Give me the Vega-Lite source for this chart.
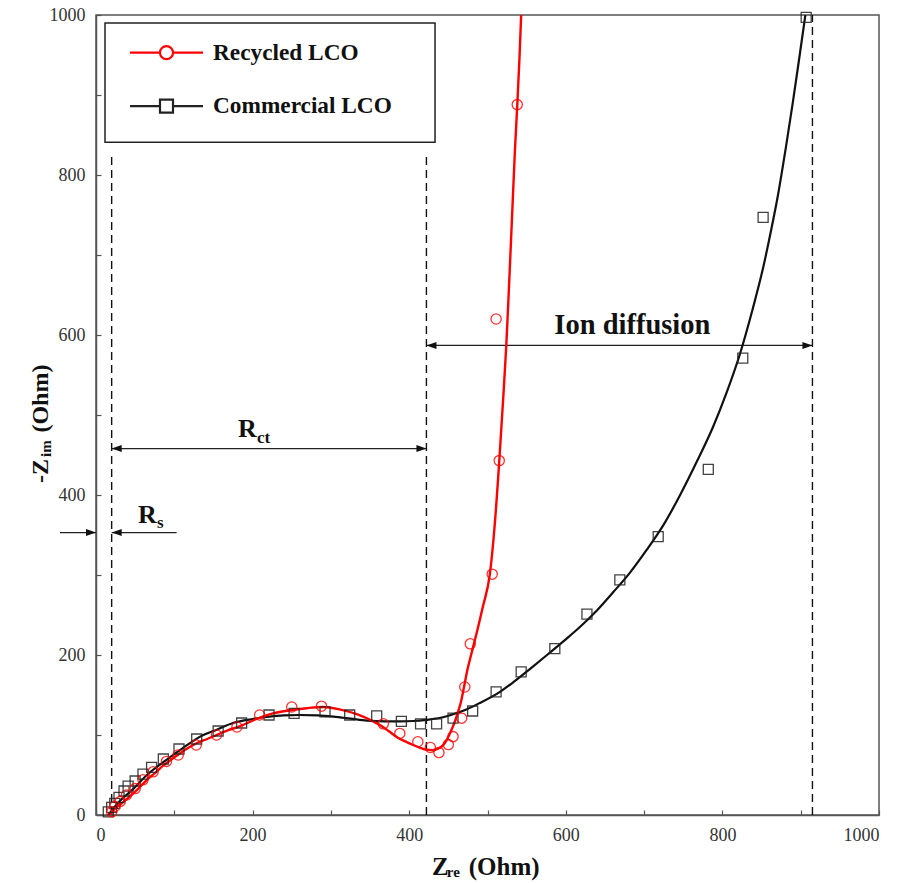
{
  "$schema": "https://vega.github.io/schema/vega-lite/v6.json",
  "width": 783,
  "height": 800,
  "autosize": {"type": "none"},
  "padding": {"left": 96, "top": 15, "right": 23, "bottom": 68},
  "background": "white",
  "config": {
    "view": {"stroke": "#555555", "strokeWidth": 1.5},
    "font": "Liberation Serif",
    "axis": {
      "grid": false,
      "domainColor": "#555555",
      "domainWidth": 1.5,
      "tickColor": "#555555",
      "tickWidth": 1.2,
      "tickSize": -5,
      "labelFont": "Liberation Serif",
      "labelFontSize": 18,
      "labelColor": "#333333"
    },
    "axisX": {"labelPadding": 16},
    "axisY": {"labelPadding": 16},
    "legend": {
      "padding": 0,
      "labelFont": "Liberation Serif",
      "labelFontWeight": "bold",
      "labelFontSize": 23.3,
      "labelColor": "#111111",
      "labelOffset": 34.85,
      "labelLimit": 400,
      "symbolStrokeWidth": 2.2,
      "symbolOpacity": 1,
      "symbolSize": 100
    }
  },
  "datasets": {
    "points": [
      {"series": "Recycled LCO", "zre": 20, "zim": 4},
      {"series": "Recycled LCO", "zre": 24, "zim": 10.6},
      {"series": "Recycled LCO", "zre": 31, "zim": 17},
      {"series": "Recycled LCO", "zre": 39, "zim": 25},
      {"series": "Recycled LCO", "zre": 50, "zim": 33},
      {"series": "Recycled LCO", "zre": 60, "zim": 44},
      {"series": "Recycled LCO", "zre": 73, "zim": 54},
      {"series": "Recycled LCO", "zre": 90, "zim": 67},
      {"series": "Recycled LCO", "zre": 105, "zim": 75},
      {"series": "Recycled LCO", "zre": 128, "zim": 87.5},
      {"series": "Recycled LCO", "zre": 154, "zim": 100},
      {"series": "Recycled LCO", "zre": 180, "zim": 110},
      {"series": "Recycled LCO", "zre": 209, "zim": 125},
      {"series": "Recycled LCO", "zre": 250, "zim": 135},
      {"series": "Recycled LCO", "zre": 288, "zim": 136},
      {"series": "Recycled LCO", "zre": 367, "zim": 114},
      {"series": "Recycled LCO", "zre": 388, "zim": 102},
      {"series": "Recycled LCO", "zre": 411, "zim": 91.6},
      {"series": "Recycled LCO", "zre": 427, "zim": 84.4},
      {"series": "Recycled LCO", "zre": 438, "zim": 78},
      {"series": "Recycled LCO", "zre": 450, "zim": 88},
      {"series": "Recycled LCO", "zre": 456, "zim": 98},
      {"series": "Recycled LCO", "zre": 467, "zim": 121},
      {"series": "Recycled LCO", "zre": 471, "zim": 160},
      {"series": "Recycled LCO", "zre": 478, "zim": 214},
      {"series": "Recycled LCO", "zre": 506, "zim": 301},
      {"series": "Recycled LCO", "zre": 515, "zim": 443},
      {"series": "Recycled LCO", "zre": 511, "zim": 620},
      {"series": "Recycled LCO", "zre": 538, "zim": 888},
      {"series": "Commercial LCO", "zre": 15.7, "zim": 4},
      {"series": "Commercial LCO", "zre": 20, "zim": 9.6},
      {"series": "Commercial LCO", "zre": 24, "zim": 14.6},
      {"series": "Commercial LCO", "zre": 29.4, "zim": 22},
      {"series": "Commercial LCO", "zre": 35.8, "zim": 30},
      {"series": "Commercial LCO", "zre": 41, "zim": 36},
      {"series": "Commercial LCO", "zre": 50, "zim": 42.5},
      {"series": "Commercial LCO", "zre": 60, "zim": 51},
      {"series": "Commercial LCO", "zre": 71, "zim": 59.6},
      {"series": "Commercial LCO", "zre": 86, "zim": 70},
      {"series": "Commercial LCO", "zre": 106, "zim": 82.5},
      {"series": "Commercial LCO", "zre": 128.6, "zim": 95},
      {"series": "Commercial LCO", "zre": 156, "zim": 105},
      {"series": "Commercial LCO", "zre": 186, "zim": 115},
      {"series": "Commercial LCO", "zre": 221, "zim": 125},
      {"series": "Commercial LCO", "zre": 253, "zim": 127},
      {"series": "Commercial LCO", "zre": 292.5, "zim": 129},
      {"series": "Commercial LCO", "zre": 324, "zim": 125},
      {"series": "Commercial LCO", "zre": 358.5, "zim": 124},
      {"series": "Commercial LCO", "zre": 390, "zim": 117},
      {"series": "Commercial LCO", "zre": 414.5, "zim": 114},
      {"series": "Commercial LCO", "zre": 435, "zim": 114},
      {"series": "Commercial LCO", "zre": 456, "zim": 121},
      {"series": "Commercial LCO", "zre": 481, "zim": 130},
      {"series": "Commercial LCO", "zre": 511, "zim": 154},
      {"series": "Commercial LCO", "zre": 543, "zim": 179},
      {"series": "Commercial LCO", "zre": 586, "zim": 208},
      {"series": "Commercial LCO", "zre": 627, "zim": 251},
      {"series": "Commercial LCO", "zre": 669, "zim": 294},
      {"series": "Commercial LCO", "zre": 718, "zim": 348},
      {"series": "Commercial LCO", "zre": 782, "zim": 432},
      {"series": "Commercial LCO", "zre": 826, "zim": 571},
      {"series": "Commercial LCO", "zre": 852, "zim": 747},
      {"series": "Commercial LCO", "zre": 907, "zim": 997}
    ],
    "fit": [
      {"series": "Recycled LCO", "zre": 18, "zim": 0},
      {"series": "Recycled LCO", "zre": 22, "zim": 6},
      {"series": "Recycled LCO", "zre": 32, "zim": 14},
      {"series": "Recycled LCO", "zre": 43, "zim": 23},
      {"series": "Recycled LCO", "zre": 54, "zim": 33},
      {"series": "Recycled LCO", "zre": 65, "zim": 44},
      {"series": "Recycled LCO", "zre": 76, "zim": 53},
      {"series": "Recycled LCO", "zre": 86, "zim": 62},
      {"series": "Recycled LCO", "zre": 97, "zim": 70},
      {"series": "Recycled LCO", "zre": 107, "zim": 77},
      {"series": "Recycled LCO", "zre": 118, "zim": 84},
      {"series": "Recycled LCO", "zre": 129, "zim": 90},
      {"series": "Recycled LCO", "zre": 142, "zim": 95},
      {"series": "Recycled LCO", "zre": 154, "zim": 100},
      {"series": "Recycled LCO", "zre": 169, "zim": 106},
      {"series": "Recycled LCO", "zre": 184, "zim": 111},
      {"series": "Recycled LCO", "zre": 205, "zim": 120},
      {"series": "Recycled LCO", "zre": 226, "zim": 127},
      {"series": "Recycled LCO", "zre": 248, "zim": 131},
      {"series": "Recycled LCO", "zre": 269, "zim": 133.5},
      {"series": "Recycled LCO", "zre": 290, "zim": 135},
      {"series": "Recycled LCO", "zre": 311, "zim": 132},
      {"series": "Recycled LCO", "zre": 333, "zim": 126},
      {"series": "Recycled LCO", "zre": 354, "zim": 117},
      {"series": "Recycled LCO", "zre": 365, "zim": 111},
      {"series": "Recycled LCO", "zre": 375, "zim": 104},
      {"series": "Recycled LCO", "zre": 385, "zim": 97},
      {"series": "Recycled LCO", "zre": 395, "zim": 92},
      {"series": "Recycled LCO", "zre": 405, "zim": 87.5},
      {"series": "Recycled LCO", "zre": 414, "zim": 84},
      {"series": "Recycled LCO", "zre": 422, "zim": 81.5},
      {"series": "Recycled LCO", "zre": 430, "zim": 81},
      {"series": "Recycled LCO", "zre": 437, "zim": 83},
      {"series": "Recycled LCO", "zre": 443, "zim": 87},
      {"series": "Recycled LCO", "zre": 448, "zim": 94},
      {"series": "Recycled LCO", "zre": 453, "zim": 104},
      {"series": "Recycled LCO", "zre": 458, "zim": 116},
      {"series": "Recycled LCO", "zre": 462, "zim": 128},
      {"series": "Recycled LCO", "zre": 466, "zim": 141},
      {"series": "Recycled LCO", "zre": 470, "zim": 160},
      {"series": "Recycled LCO", "zre": 474, "zim": 180},
      {"series": "Recycled LCO", "zre": 479, "zim": 200},
      {"series": "Recycled LCO", "zre": 484, "zim": 219},
      {"series": "Recycled LCO", "zre": 494, "zim": 260},
      {"series": "Recycled LCO", "zre": 503, "zim": 301},
      {"series": "Recycled LCO", "zre": 509, "zim": 360},
      {"series": "Recycled LCO", "zre": 515, "zim": 442},
      {"series": "Recycled LCO", "zre": 520, "zim": 520},
      {"series": "Recycled LCO", "zre": 524, "zim": 587},
      {"series": "Recycled LCO", "zre": 527, "zim": 650},
      {"series": "Recycled LCO", "zre": 531, "zim": 740},
      {"series": "Recycled LCO", "zre": 535, "zim": 830},
      {"series": "Recycled LCO", "zre": 538, "zim": 887},
      {"series": "Recycled LCO", "zre": 541, "zim": 950},
      {"series": "Recycled LCO", "zre": 543, "zim": 1000},
      {"series": "Commercial LCO", "zre": 16, "zim": 0},
      {"series": "Commercial LCO", "zre": 22, "zim": 8},
      {"series": "Commercial LCO", "zre": 32, "zim": 19},
      {"series": "Commercial LCO", "zre": 47, "zim": 32},
      {"series": "Commercial LCO", "zre": 65, "zim": 50},
      {"series": "Commercial LCO", "zre": 90, "zim": 69},
      {"series": "Commercial LCO", "zre": 110, "zim": 83},
      {"series": "Commercial LCO", "zre": 133, "zim": 98},
      {"series": "Commercial LCO", "zre": 155, "zim": 107},
      {"series": "Commercial LCO", "zre": 175, "zim": 115},
      {"series": "Commercial LCO", "zre": 200, "zim": 120},
      {"series": "Commercial LCO", "zre": 218, "zim": 122.5},
      {"series": "Commercial LCO", "zre": 240, "zim": 124.5},
      {"series": "Commercial LCO", "zre": 260, "zim": 125},
      {"series": "Commercial LCO", "zre": 283, "zim": 124.5},
      {"series": "Commercial LCO", "zre": 303, "zim": 123},
      {"series": "Commercial LCO", "zre": 325, "zim": 120.5},
      {"series": "Commercial LCO", "zre": 346, "zim": 118},
      {"series": "Commercial LCO", "zre": 370, "zim": 117},
      {"series": "Commercial LCO", "zre": 388, "zim": 117},
      {"series": "Commercial LCO", "zre": 405, "zim": 117.5},
      {"series": "Commercial LCO", "zre": 422, "zim": 119},
      {"series": "Commercial LCO", "zre": 440, "zim": 121.5},
      {"series": "Commercial LCO", "zre": 456, "zim": 126},
      {"series": "Commercial LCO", "zre": 473, "zim": 132},
      {"series": "Commercial LCO", "zre": 490, "zim": 140},
      {"series": "Commercial LCO", "zre": 516, "zim": 154},
      {"series": "Commercial LCO", "zre": 533, "zim": 166},
      {"series": "Commercial LCO", "zre": 556, "zim": 184},
      {"series": "Commercial LCO", "zre": 576, "zim": 200},
      {"series": "Commercial LCO", "zre": 598, "zim": 218},
      {"series": "Commercial LCO", "zre": 618, "zim": 235},
      {"series": "Commercial LCO", "zre": 640, "zim": 256},
      {"series": "Commercial LCO", "zre": 661, "zim": 279},
      {"series": "Commercial LCO", "zre": 682, "zim": 303},
      {"series": "Commercial LCO", "zre": 703, "zim": 331},
      {"series": "Commercial LCO", "zre": 725, "zim": 363},
      {"series": "Commercial LCO", "zre": 746, "zim": 400},
      {"series": "Commercial LCO", "zre": 768, "zim": 443},
      {"series": "Commercial LCO", "zre": 788, "zim": 485},
      {"series": "Commercial LCO", "zre": 805, "zim": 527},
      {"series": "Commercial LCO", "zre": 822, "zim": 575},
      {"series": "Commercial LCO", "zre": 838, "zim": 630},
      {"series": "Commercial LCO", "zre": 852, "zim": 684},
      {"series": "Commercial LCO", "zre": 862, "zim": 730},
      {"series": "Commercial LCO", "zre": 871, "zim": 775},
      {"series": "Commercial LCO", "zre": 881, "zim": 834},
      {"series": "Commercial LCO", "zre": 890, "zim": 891},
      {"series": "Commercial LCO", "zre": 898, "zim": 945},
      {"series": "Commercial LCO", "zre": 906, "zim": 1000}
    ],
    "guides": [
      {"zre": 20, "zim": 0, "zim2": 828},
      {"zre": 422, "zim": 0, "zim2": 828},
      {"zre": 915, "zim": 0, "zim2": 1000}
    ],
    "spans": [
      {"zre": 20, "zre2": 422, "zim": 458},
      {"zre": 422, "zre2": 915, "zim": 587},
      {"zre": -46, "zre2": 0, "zim": 353},
      {"zre": 20, "zre2": 103, "zim": 353}
    ],
    "heads": [
      {"zre": 20, "zim": 458, "dir": "left"},
      {"zre": 422, "zim": 458, "dir": "right"},
      {"zre": 422, "zim": 587, "dir": "left"},
      {"zre": 915, "zim": 587, "dir": "right"},
      {"zre": 0, "zim": 353, "dir": "right"},
      {"zre": 20, "zim": 353, "dir": "left"}
    ],
    "legendBox": [
      {"zre": 11.5, "zre2": 433, "zim": 841, "zim2": 990}
    ],
    "mainText": [
      {"label": "R", "zre": 181.4, "zim": 472.5},
      {"label": "R", "zre": 53.6, "zim": 365}
    ],
    "subText": [
      {"label": "ct", "zre": 205.6, "zim": 465},
      {"label": "s", "zre": 78, "zim": 359}
    ],
    "xTitle": [
      {"label": "Z", "zre": 429, "zim": -75},
      {"label": "(Ohm)", "zre": 476, "zim": -75}
    ],
    "xTitleSub": [
      {"label": "re", "zre": 448, "zim": -78}
    ],
    "yTitle": [
      {"label": "-Z", "zre": -61, "zim": 415},
      {"label": "(Ohm)", "zre": -61, "zim": 478}
    ],
    "yTitleSub": [
      {"label": "im", "zre": -57.5, "zim": 447.5}
    ]
  },
  "layer": [
    {
      "data": {"name": "legendBox"},
      "mark": {"type": "rect", "fill": null, "stroke": "#222222", "strokeWidth": 1.5},
      "encoding": {
        "x": {"field": "zre", "type": "quantitative", "scale": {"domain": [0, 1000], "nice": false, "zero": false}, "title": null},
        "x2": {"field": "zre2"},
        "y": {"field": "zim", "type": "quantitative", "scale": {"domain": [0, 1000], "nice": false, "zero": false}, "title": null},
        "y2": {"field": "zim2"}
      }
    },
    {
      "data": {"name": "guides"},
      "mark": {"type": "rule", "color": "#111111", "strokeWidth": 1.4, "strokeDash": [8, 5]},
      "encoding": {
        "x": {"field": "zre", "type": "quantitative", "title": null},
        "y": {"field": "zim", "type": "quantitative", "title": null},
        "y2": {"field": "zim2"}
      }
    },
    {
      "data": {"name": "spans"},
      "mark": {"type": "rule", "color": "#222222", "strokeWidth": 1.4},
      "encoding": {
        "x": {"field": "zre", "type": "quantitative", "title": null},
        "x2": {"field": "zre2"},
        "y": {"field": "zim", "type": "quantitative", "title": null}
      }
    },
    {
      "data": {"name": "heads"},
      "transform": [{"filter": "datum.dir === 'right'"}],
      "mark": {"type": "point", "shape": "M0,0L-1,-0.35L-1,0.35Z", "size": 400, "filled": true, "color": "#111111", "opacity": 1},
      "encoding": {
        "x": {"field": "zre", "type": "quantitative", "title": null},
        "y": {"field": "zim", "type": "quantitative", "title": null}
      }
    },
    {
      "data": {"name": "heads"},
      "transform": [{"filter": "datum.dir === 'left'"}],
      "mark": {"type": "point", "shape": "M0,0L1,-0.35L1,0.35Z", "size": 400, "filled": true, "color": "#111111", "opacity": 1},
      "encoding": {
        "x": {"field": "zre", "type": "quantitative", "title": null},
        "y": {"field": "zim", "type": "quantitative", "title": null}
      }
    },
    {
      "data": {"name": "fit"},
      "transform": [{"filter": "datum.series === 'Commercial LCO'"}],
      "mark": {"type": "line", "interpolate": "monotone", "strokeWidth": 2.2, "color": "#111111", "clip": true},
      "encoding": {
        "x": {"field": "zre", "type": "quantitative", "title": null},
        "y": {"field": "zim", "type": "quantitative", "title": null}
      }
    },
    {
      "data": {"name": "fit"},
      "transform": [{"filter": "datum.series === 'Recycled LCO'"}],
      "mark": {"type": "line", "interpolate": "monotone", "strokeWidth": 2.4, "color": "#ff0000", "clip": true},
      "encoding": {
        "x": {"field": "zre", "type": "quantitative", "title": null},
        "y": {"field": "zim", "type": "quantitative", "title": null}
      }
    },
    {
      "data": {"name": "points"},
      "transform": [{"filter": "datum.series === 'Commercial LCO'"}],
      "mark": {"type": "point", "shape": "square", "filled": false, "strokeWidth": 1.3, "opacity": 0.85, "color": "#222222"},
      "encoding": {
        "x": {"field": "zre", "type": "quantitative", "title": null},
        "y": {"field": "zim", "type": "quantitative", "title": null},
        "size": {
          "field": "series", "type": "nominal",
          "scale": {"type": "ordinal", "domain": ["Commercial LCO"], "range": [100]},
          "legend": {
            "title": null,
            "orient": "none",
            "legendX": 58.85,
            "legendY": 79.5,
            "symbolType": "M-7.3,0L-1.3,0M1.3,0L7.3,0M-1.3,-1.3L1.3,-1.3L1.3,1.3L-1.3,1.3Z"
          }
        }
      }
    },
    {
      "data": {"name": "points"},
      "transform": [{"filter": "datum.series === 'Recycled LCO'"}],
      "mark": {"type": "point", "filled": false, "size": 105, "strokeWidth": 1.3, "opacity": 0.8},
      "encoding": {
        "x": {
          "field": "zre", "type": "quantitative", "title": null,
          "scale": {"domain": [0, 1000], "nice": false, "zero": false},
          "axis": {"values": [0, 100, 200, 300, 400, 500, 600, 700, 800, 900, 1000], "format": "d", "labelExpr": "datum.value % 200 === 0 ? datum.label : ''"}
        },
        "y": {
          "field": "zim", "type": "quantitative", "title": null,
          "scale": {"domain": [0, 1000], "nice": false, "zero": false},
          "axis": {"values": [0, 100, 200, 300, 400, 500, 600, 700, 800, 900, 1000], "format": "d", "labelExpr": "datum.value % 200 === 0 ? datum.label : ''"}
        },
        "color": {
          "field": "series", "type": "nominal",
          "scale": {"domain": ["Recycled LCO"], "range": ["#ff0000"]},
          "legend": {
            "title": null,
            "orient": "none",
            "legendX": 58.85,
            "legendY": 26,
            "symbolType": "M-7.3,0L-1.3,0M1.3,0L7.3,0M1.3,0A1.3,1.3,0,1,1,-1.3,0A1.3,1.3,0,1,1,1.3,0"
          }
        }
      }
    },
    {
      "data": {"name": "mainText"},
      "mark": {"type": "text", "align": "left", "baseline": "alphabetic", "font": "Liberation Serif", "fontWeight": "bold", "fontSize": 26, "color": "#111111"},
      "encoding": {
        "x": {"field": "zre", "type": "quantitative", "title": null},
        "y": {"field": "zim", "type": "quantitative", "title": null},
        "text": {"field": "label"}
      }
    },
    {
      "data": {"name": "subText"},
      "mark": {"type": "text", "align": "left", "baseline": "alphabetic", "font": "Liberation Serif", "fontWeight": "bold", "fontSize": 17, "color": "#111111"},
      "encoding": {
        "x": {"field": "zre", "type": "quantitative", "title": null},
        "y": {"field": "zim", "type": "quantitative", "title": null},
        "text": {"field": "label"}
      }
    },
    {
      "data": {"values": [{"label": "Ion diffusion", "zre": 685, "zim": 601}]},
      "mark": {"type": "text", "align": "center", "baseline": "alphabetic", "font": "Liberation Serif", "fontWeight": "bold", "fontSize": 28.5, "color": "#111111"},
      "encoding": {
        "x": {"field": "zre", "type": "quantitative", "title": null},
        "y": {"field": "zim", "type": "quantitative", "title": null},
        "text": {"field": "label"}
      }
    },
    {
      "data": {"name": "xTitle"},
      "mark": {"type": "text", "align": "left", "baseline": "alphabetic", "font": "Liberation Serif", "fontWeight": "bold", "fontSize": 25, "color": "#111111"},
      "encoding": {
        "x": {"field": "zre", "type": "quantitative", "title": null},
        "y": {"field": "zim", "type": "quantitative", "title": null},
        "text": {"field": "label"}
      }
    },
    {
      "data": {"name": "xTitleSub"},
      "mark": {"type": "text", "align": "left", "baseline": "alphabetic", "font": "Liberation Serif", "fontWeight": "bold", "fontSize": 15, "color": "#111111"},
      "encoding": {
        "x": {"field": "zre", "type": "quantitative", "title": null},
        "y": {"field": "zim", "type": "quantitative", "title": null},
        "text": {"field": "label"}
      }
    },
    {
      "data": {"name": "yTitle"},
      "mark": {"type": "text", "angle": 270, "align": "left", "baseline": "alphabetic", "font": "Liberation Serif", "fontWeight": "bold", "fontSize": 24, "color": "#111111"},
      "encoding": {
        "x": {"field": "zre", "type": "quantitative", "title": null},
        "y": {"field": "zim", "type": "quantitative", "title": null},
        "text": {"field": "label"}
      }
    },
    {
      "data": {"name": "yTitleSub"},
      "mark": {"type": "text", "angle": 270, "align": "left", "baseline": "alphabetic", "font": "Liberation Serif", "fontWeight": "bold", "fontSize": 15, "color": "#111111"},
      "encoding": {
        "x": {"field": "zre", "type": "quantitative", "title": null},
        "y": {"field": "zim", "type": "quantitative", "title": null},
        "text": {"field": "label"}
      }
    }
  ]
}
